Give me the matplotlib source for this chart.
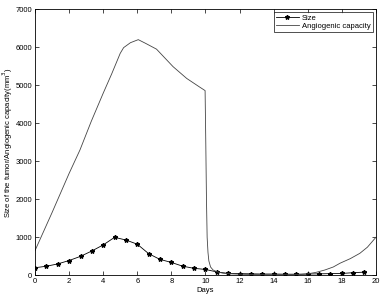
import matplotlib
matplotlib.use("Agg")
import matplotlib.pyplot as plt
import numpy as np

plt.rcParams['font.family'] = ['Liberation Sans', 'DejaVu Sans']

size_days = [0, 0.67, 1.33, 2.0, 2.67, 3.33, 4.0, 4.67, 5.33, 6.0, 6.67, 7.33, 8.0, 8.67,
             9.33, 10.0, 10.67, 11.33, 12.0, 12.67, 13.33, 14.0, 14.67, 15.33, 16.0, 16.67,
             17.33, 18.0, 18.67, 19.33]
size_vals = [200, 240, 300, 390, 500, 640, 800, 1000, 930, 820, 570, 420, 340, 240,
             185, 155, 90, 50, 45, 40, 35, 35, 30, 30, 35, 40, 45, 50, 70, 85]

ang_days = [0, 1.0, 2.0, 2.64, 3.3, 4.0, 4.5, 5.0, 5.2, 5.6, 6.06, 6.5, 7.13, 8.1, 8.9, 9.67,
            9.98, 10.02, 10.06, 10.1, 10.15, 10.2, 10.3, 10.45, 10.7, 11.0, 11.5, 12.0, 13.0,
            14.0, 15.0, 15.5, 16.0, 16.5, 17.0, 17.5, 17.9, 18.5, 19.06, 19.5, 20.0]
ang_vals = [650, 1650, 2680, 3300, 4050, 4790, 5300, 5840, 5990, 6120, 6200, 6100, 5950, 5490,
            5180, 4950, 4860, 3500, 2000, 1000, 600, 380, 220, 140, 90, 60, 40, 30, 20,
            15, 15, 20, 40, 80, 140, 220, 320, 440, 580, 740, 1000]

fig = plt.figure(figsize=(3.82, 2.98), dpi=100)
ax = fig.add_axes([0.0916, 0.076, 0.8924, 0.893])

ax.plot(size_days, size_vals, color='black', lw=0.6, marker='*', markersize=3.2, label='Size')
ax.plot(ang_days, ang_vals, color='#444444', lw=0.6, label='Angiogenic capacity')

ax.set_xlim(0, 20)
ax.set_ylim(0, 7000)
ax.set_xticks(np.arange(0, 21, 2))
ax.set_yticks(np.arange(0, 7001, 1000))
ax.tick_params(direction='in', top=True, right=True, labelsize=5.5, length=3, width=0.5, pad=2)
for s in ax.spines.values():
    s.set_linewidth(0.6)
ax.set_xlabel('Days', fontsize=5.5, labelpad=1)
ax.set_ylabel('Size of the tumor/Angiogenic capacity(mm$^3$)', fontsize=5.5)
ax.yaxis.set_label_coords(-0.06, 0.5)

leg = ax.legend(loc='upper right', fontsize=5.5, frameon=True, fancybox=False,
                edgecolor='black', borderpad=0.3, handlelength=3, labelspacing=0.1,
                borderaxespad=0.4, handletextpad=0.4)
leg.get_frame().set_linewidth(0.6)

fig.savefig('out.png', dpi=100)
